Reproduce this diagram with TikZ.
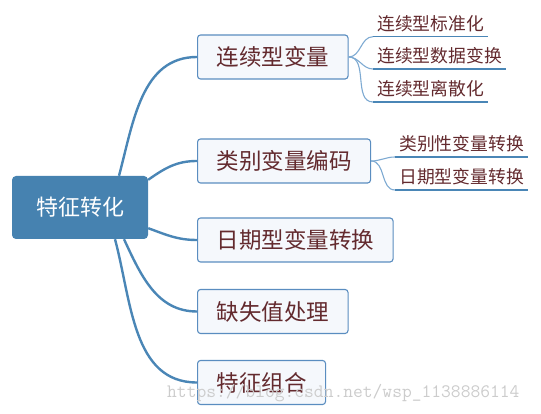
\documentclass[tikz,border=0pt]{standalone}
\usepackage{fontspec}
\newfontfamily\cjk{Noto Sans CJK SC}
\definecolor{rootblue}{HTML}{4682B0}
\definecolor{linkblue}{HTML}{4A86B6}
\definecolor{twigblue}{HTML}{7EAAD2}
\definecolor{boxline}{HTML}{5A8DC0}
\definecolor{boxfill}{HTML}{F5F8FC}
\definecolor{wordred}{HTML}{632A2E}
\tikzset{
  theme/.style={fill=rootblue,rounded corners=4pt,text=white,minimum width=136pt,minimum height=63pt,font=\cjk\fontsize{22}{26}\selectfont},
  branch/.style={draw=boxline,fill=boxfill,line width=1.1pt,rounded corners=3pt,anchor=west,minimum height=44pt,inner xsep=19pt,text=wordred,font=\cjk\fontsize{22.5}{27}\selectfont},
  leaf/.style={anchor=south west,inner xsep=4pt,inner ysep=5pt,text=wordred,font=\cjk\fontsize{17.8}{21}\selectfont},
  link/.style={draw=linkblue,line width=2.4pt},
  twig/.style={draw=twigblue,line width=1.1pt},
  rule/.style={draw=linkblue,line width=1.2pt}
}
\begin{document}
\begin{tikzpicture}[x=1pt,y=1pt]
\useasboundingbox (0,0) rectangle (541,414);
\node[theme] (root) at (80,206.5) {特征转化};
\node[branch] (b1) at (197,357) {连续型变量};
\node[branch] (b2) at (197,253) {类别变量编码};
\node[branch] (b3) at (197,174) {日期型变量转换};
\node[branch] (b4) at (197,102.5) {缺失值处理};
\node[branch] (b5) at (197,31.5) {特征组合};
\node[leaf] (s11) at (373,377.3) {连续型标准化};
\node[leaf] (s12) at (373,345) {连续型数据变换};
\node[leaf] (s13) at (373,312) {连续型离散化};
\node[leaf] (s21) at (395,257) {类别性变量转换};
\node[leaf] (s22) at (395,224) {日期型变量转换};
% main branches
\draw[link] ([xshift=39pt]root.north) to[out=75,in=180] (b1.west);
\draw[link] ([yshift=-4pt]root.north east) to[out=35,in=180] (b2.west);
\draw[link] ([yshift=11pt]root.south east) to[out=-20,in=180] (b3.west);
\draw[link] ([xshift=44pt]root.south) to[out=-65,in=180] (b4.west);
\draw[link] ([xshift=35pt]root.south) to[out=-75,in=180] (b5.west);
% sub branches
\draw[twig] (b1.east) to[out=0,in=180] (s11.south west);
\draw[twig] (b1.east) to[out=0,in=180] (s12.south west);
\draw[twig] (b1.east) to[out=0,in=180] (s13.south west);
\draw[twig] (b2.east) to[out=0,in=180] (s21.south west);
\draw[twig] (b2.east) to[out=0,in=180] (s22.south west);
\foreach \s in {s11,s12,s13,s21,s22}
  \draw[rule] (\s.south west) -- (\s.south east);
\node[anchor=west,inner sep=0pt,text=gray!40,font=\ttfamily\fontsize{19}{22}\selectfont] (wm) at (167,21) {https://blog.csdn.net/wsp\_1138886114};
\end{tikzpicture}
\end{document}
